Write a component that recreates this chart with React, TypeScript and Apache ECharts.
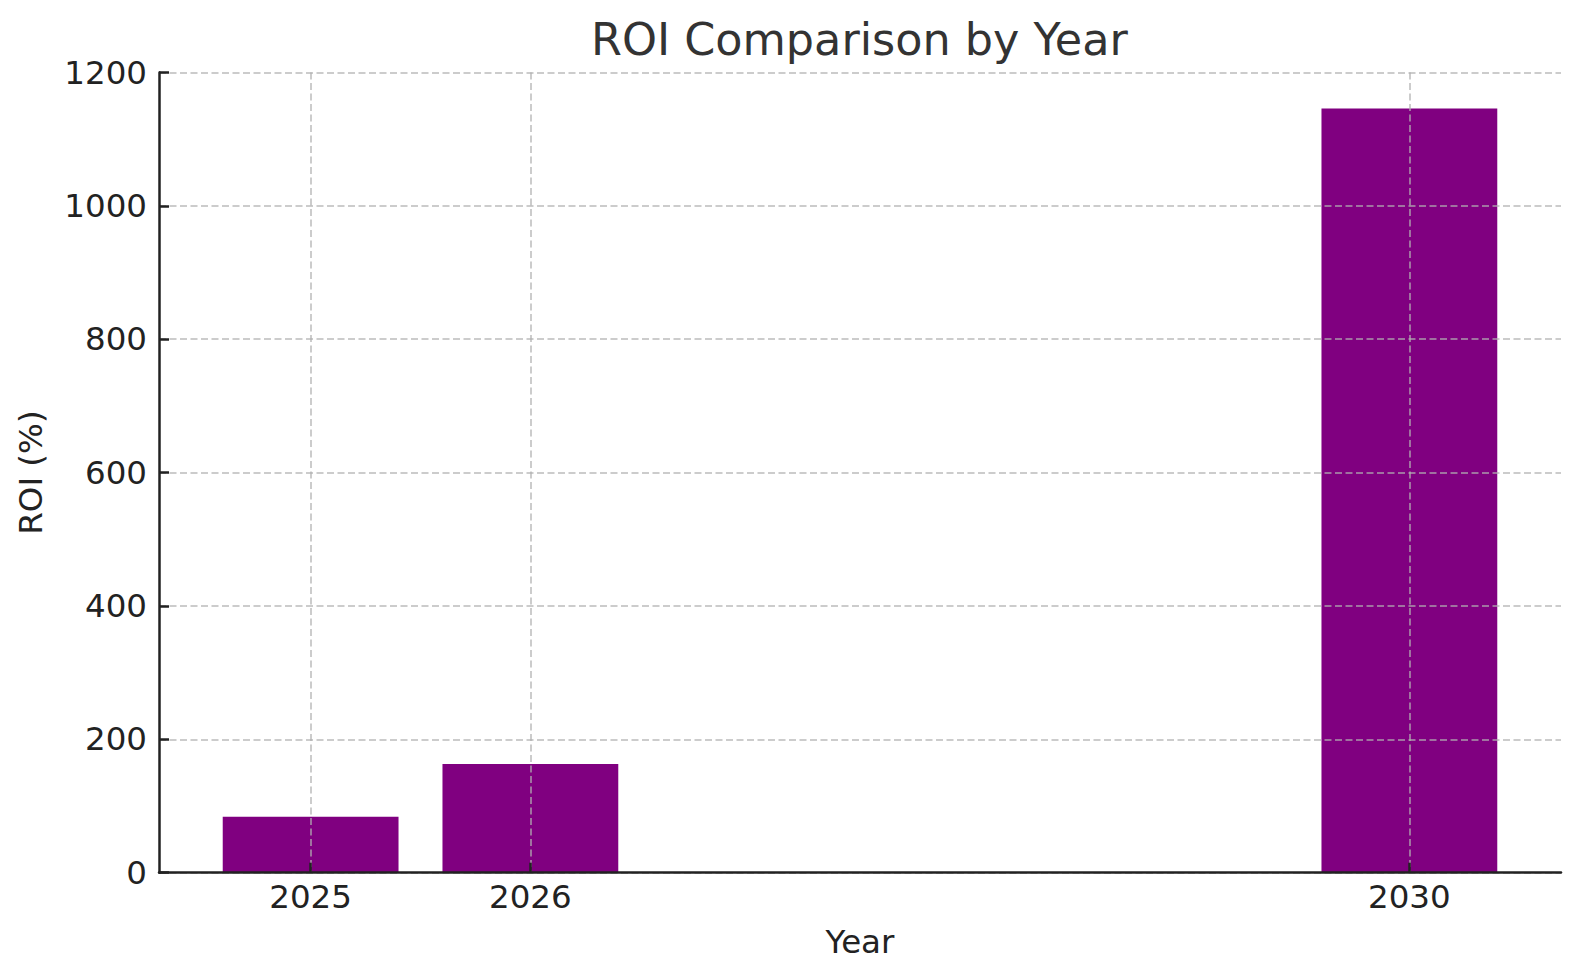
import React, { useEffect, useRef } from "react";
import * as echarts from "echarts";

const years = [2025, 2026, 2030];
const roi = [84, 163, 1146];
const yTicks = [0, 200, 400, 600, 800, 1000, 1200];
const titleText = "ROI Comparison by Year";
const xName = "Year";
const yName = "ROI (%)";

const FONT = "DejaVu Sans";
const GRID_COLOR = "rgba(176,176,176,0.65)";
const FS = 32.5;

export default function App() {
  const ref = useRef<HTMLDivElement>(null);
  useEffect(() => {
    if (!ref.current) return;
    const chart = echarts.init(ref.current, null, { renderer: "svg" });
    const splitLine = {
      show: true,
      lineStyle: { color: GRID_COLOR, width: 2, type: [7, 3.5] as any },
    };
    chart.setOption({
      animation: false,
      backgroundColor: "#ffffff",
      title: {
        text: titleText,
        left: 591,
        top: 17,
        padding: 0,
        textStyle: { fontFamily: FONT, fontSize: 44.5, fontWeight: "normal", color: "#333333" },
      },
      grid: { left: 159, right: 19, top: 72.5, bottom: 107.3, containLabel: false },
      xAxis: {
        type: "value",
        min: 2024.31,
        max: 2030.69,
        name: xName,
        nameLocation: "middle",
        nameGap: 53,
        nameTextStyle: { fontFamily: FONT, fontSize: FS, color: "#222222", verticalAlign: "top" },
        axisLine: { show: true, lineStyle: { color: "#222222", width: 2.5 } },
        axisTick: { show: true, inside: true, length: 10, customValues: years, lineStyle: { color: "#222222", width: 2.5 } },
        axisLabel: {
          customValues: years,
          margin: 8,
          fontFamily: FONT,
          fontSize: FS,
          color: "#222222",
          formatter: (v: number) => String(v),
        },
        splitLine,
      },
      yAxis: {
        type: "value",
        min: 0,
        max: 1200,
        interval: 200,
        name: yName,
        nameLocation: "middle",
        nameGap: 112,
        nameRotate: 90,
        nameTextStyle: { fontFamily: FONT, fontSize: FS, color: "#222222" },
        axisLine: { show: true, lineStyle: { color: "#222222", width: 2.5 } },
        axisTick: { show: true, inside: true, length: 10, customValues: yTicks, lineStyle: { color: "#222222", width: 2.5 } },
        axisLabel: {
          customValues: yTicks,
          margin: 12,
          fontFamily: FONT,
          fontSize: FS,
          color: "#222222",
          formatter: (v: number) => String(v),
        },
        splitLine,
      },
      series: [
        {
          type: "custom",
          z: -1,
          data: years.map((y, i) => [y, roi[i]]),
          renderItem: (params: any, api: any) => {
            const x = api.value(0);
            const v = api.value(1);
            const p1 = api.coord([x - 0.4, v]);
            const p2 = api.coord([x + 0.4, 0]);
            return {
              type: "rect",
              shape: { x: p1[0], y: p1[1], width: p2[0] - p1[0], height: p2[1] - p1[1] },
              style: { fill: "#800080" },
            };
          },
        },
      ],
    });
    return () => chart.dispose();
  }, []);
  return (
    <div
      ref={ref}
      style={{ position: "fixed", left: 0, top: 0, width: 1580, height: 980, background: "#fff" }}
    />
  );
}
